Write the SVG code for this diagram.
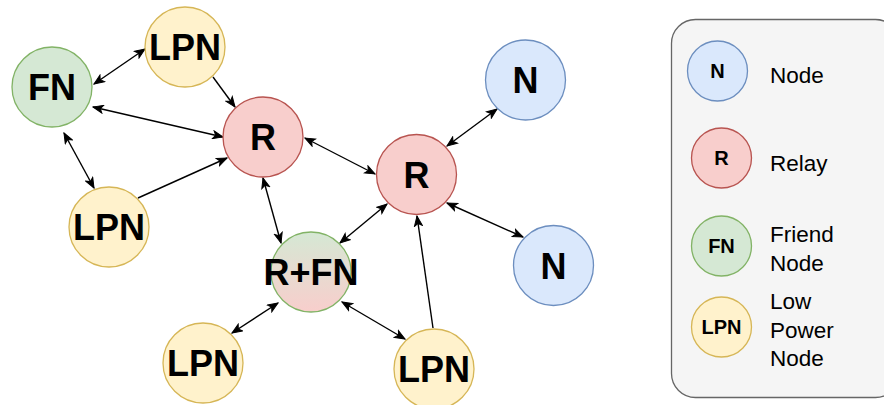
<svg xmlns="http://www.w3.org/2000/svg" width="884" height="405" viewBox="0 0 884 405">
  <style>
    .n circle { stroke-width: 1.3; }
    .blue { fill: #dae8fc; stroke: #6c8ebf; }
    .red { fill: #f8cecc; stroke: #b85450; }
    .green { fill: #d5e8d4; stroke: #82b366; }
    .yellow { fill: #fff2cc; stroke: #d6b656; }
    .lbl { font-family: "Liberation Sans", Arial, sans-serif; font-weight: bold; font-size: 36px; fill: #000; text-anchor: middle; }
    .llbl { font-family: "Liberation Sans", Arial, sans-serif; font-weight: bold; font-size: 20px; fill: #000; text-anchor: middle; }
    .ltxt { font-family: "Liberation Sans", Arial, sans-serif; font-size: 22.5px; fill: #000; }
    .e { stroke: #000; stroke-width: 1.4; fill: none; }
    .b { marker-start: url(#arr); marker-end: url(#arr); }
    .s { marker-end: url(#arr); }
  </style>
  <defs>
    <marker id="arr" markerUnits="userSpaceOnUse" markerWidth="12" markerHeight="10" viewBox="0 0 12 10" refX="11" refY="5" orient="auto-start-reverse">
      <path d="M1,1 L11,5 L1,9 L3.5,5 Z" fill="#000" stroke="#000" stroke-width="1"/>
    </marker>
    <linearGradient id="rfn" x1="0" y1="0" x2="0" y2="1">
      <stop offset="0" stop-color="#d5e8d4"/>
      <stop offset="1" stop-color="#f8cecc"/>
    </linearGradient>
  </defs>

  <g id="legend">
    <rect x="671.5" y="19.5" width="228" height="378" rx="24" ry="24" fill="#f5f5f5" stroke="#666666" stroke-width="1.3"/>
    <g id="legend-n" class="n"><circle class="blue" cx="717.5" cy="71" r="30"/><text class="llbl" x="717.5" y="78">N</text></g>
    <text class="ltxt" x="770" y="83">Node</text>
    <g id="legend-r" class="n"><circle class="red" cx="721.5" cy="158" r="30"/><text class="llbl" x="721.5" y="165">R</text></g>
    <text class="ltxt" x="770" y="171">Relay</text>
    <g id="legend-fn" class="n"><circle class="green" cx="721.5" cy="246" r="30"/><text class="llbl" x="721.5" y="253">FN</text></g>
    <text class="ltxt" x="770" y="242">Friend</text>
    <text class="ltxt" x="770" y="271">Node</text>
    <g id="legend-lpn" class="n"><circle class="yellow" cx="721.5" cy="327" r="30"/><text class="llbl" x="721.5" y="334">LPN</text></g>
    <text class="ltxt" x="770" y="309">Low</text>
    <text class="ltxt" x="770" y="338">Power</text>
    <text class="ltxt" x="770" y="366">Node</text>
  </g>

  <g id="connectors">
    <line class="e b" x1="94" y1="84" x2="145" y2="49"/>
    <line class="e s" x1="213" y1="77" x2="235" y2="107"/>
    <line class="e b" x1="93" y1="107" x2="223" y2="137"/>
    <line class="e b" x1="64" y1="133" x2="94" y2="188"/>
    <line class="e s" x1="138" y1="198" x2="227" y2="158"/>
    <line class="e b" x1="263" y1="178" x2="281" y2="243"/>
    <line class="e b" x1="305" y1="138" x2="375" y2="174"/>
    <line class="e b" x1="447" y1="146" x2="497" y2="109"/>
    <line class="e b" x1="447" y1="203" x2="523" y2="237"/>
    <line class="e b" x1="387" y1="204" x2="340" y2="243"/>
    <line class="e s" x1="433" y1="328" x2="417" y2="216"/>
    <line class="e b" x1="278" y1="303" x2="232" y2="333"/>
    <line class="e b" x1="342" y1="302" x2="405" y2="339"/>
  </g>

  <g id="fn" class="n"><circle class="green" cx="52" cy="87" r="40"/><text class="lbl" x="52" y="100">FN</text></g>
  <g id="lpn-top" class="n"><circle class="yellow" cx="185" cy="47" r="40"/><text class="lbl" x="185" y="60">LPN</text></g>
  <g id="r1" class="n"><circle class="red" cx="263" cy="137" r="40"/><text class="lbl" x="263" y="150">R</text></g>
  <g id="lpn-left" class="n"><circle class="yellow" cx="109" cy="227" r="40"/><text class="lbl" x="109" y="240">LPN</text></g>
  <g id="r2" class="n"><circle class="red" cx="416.5" cy="174.5" r="40"/><text class="lbl" x="416.5" y="187.5">R</text></g>
  <g id="n-top" class="n"><circle class="blue" cx="525.5" cy="80" r="40"/><text class="lbl" x="525.5" y="93">N</text></g>
  <g id="n-bottom" class="n"><circle class="blue" cx="553.5" cy="265.5" r="40"/><text class="lbl" x="553.5" y="278.5">N</text></g>
  <g id="rfn-node" class="n"><circle cx="311" cy="272" r="40" fill="url(#rfn)" stroke="#82b366"/><text class="lbl" x="311" y="285">R+FN</text></g>
  <g id="lpn-bl" class="n"><circle class="yellow" cx="203" cy="363" r="40"/><text class="lbl" x="203" y="376">LPN</text></g>
  <g id="lpn-br" class="n"><circle class="yellow" cx="434" cy="369" r="40"/><text class="lbl" x="434" y="382">LPN</text></g>
</svg>
